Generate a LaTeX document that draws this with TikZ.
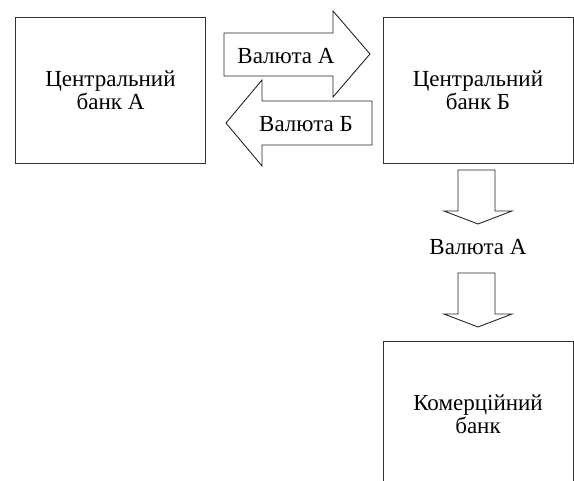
\documentclass[tikz,border=0pt]{standalone}
\usepackage{fontspec}
\setmainfont{Liberation Serif}
\newfontfamily\banktext{Liberation Serif}
\usetikzlibrary{positioning}
\tikzset{
  every picture/.style={line width=0.9pt},
  bank/.style={draw=black!80, minimum width=190pt, minimum height=146pt, align=center, font=\banktext\fontsize{23}{23}\selectfont},
  currency/.style={font=\banktext\fontsize{23}{23}\selectfont, inner sep=0pt},
  blockarrow/.style={draw=black!85, line join=miter},
}

\begin{document}
\begin{tikzpicture}[x=1pt, y=-1pt]
  \useasboundingbox (0,0) rectangle (574,481);
  \clip (0,0) rectangle (574,481);
  % banks
  \node[bank] (bankA) at (110.5,90) {Центральний\\банк А};
  \node[bank] (bankB) at (478,90) {Центральний\\банк Б};
  \node[bank] (combank) at (478,414) {Комерційний\\банк};
  % exchange between the central banks
  \draw[blockarrow] (224,33) -- (333,33) -- (333,11) -- (370,54) -- (333,97) -- (333,76) -- (224,76) -- cycle;
  \draw[blockarrow] (372,101) -- (262,101) -- (262,80) -- (226,123) -- (262,166) -- (262,145) -- (372,145) -- cycle;
  \node[currency] (curAB) at (286,56) {Валюта А};
  \node[currency] (curBA) at (306,124) {Валюта Б};
  % down to the commercial bank
  \draw[blockarrow] (458,170) -- (495,170) -- (495,211) -- (512,211) -- (478,224) -- (444,211) -- (458,211) -- cycle;
  \node[currency] (curdown) at (478,247) {Валюта А};
  \draw[blockarrow] (458,273) -- (495,273) -- (495,314) -- (512,314) -- (478,327) -- (444,314) -- (458,314) -- cycle;
\end{tikzpicture}
\end{document}
